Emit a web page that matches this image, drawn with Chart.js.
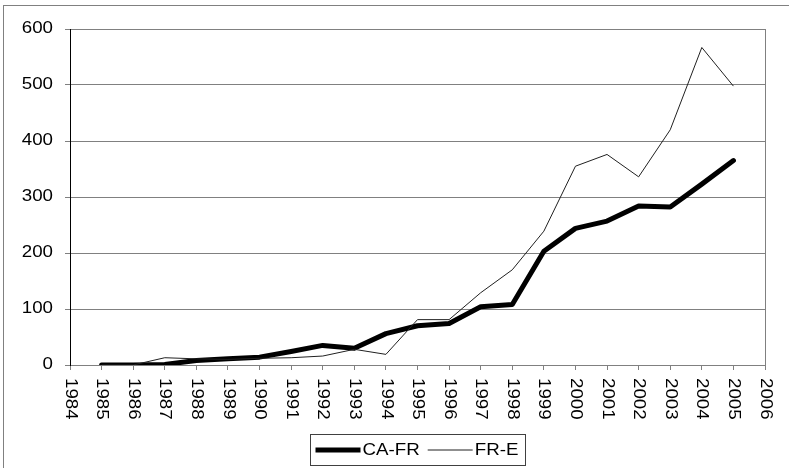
<!DOCTYPE html>
<html>
<head>
<meta charset="utf-8">
<script src="https://cdn.jsdelivr.net/npm/chart.js@4"></script>
<style>
  html, body { margin: 0; padding: 0; background: #fff; }
  #wrap { width: 789px; height: 468px; position: relative; }
</style>
</head>
<body>
<div id="wrap"><canvas id="chart" width="789" height="468"></canvas></div>
<script>
const years = [1985, 1986, 1987, 1988, 1989, 1990, 1991, 1992, 1993, 1994, 1995,
               1996, 1997, 1998, 1999, 2000, 2001, 2002, 2003, 2004, 2005]
const caFr = [0, 0, 1, 8, 11, 14, 24, 35, 30, 56, 70, 74, 104, 108, 203, 244, 257, 284, 282, 323, 365]
const frE = [0, 0, 13, 11, 10, 12, 13, 16, 28, 19, 81, 81, 129, 170, 239, 355, 376, 336, 420, 567, 498]
const seriesNames = ["CA-FR", "FR-E"]
const xMin = 1984, xMax = 2006
const yMax = 600, yStep = 100

const FONT = "'Liberation Sans', Arial, sans-serif"
const STRETCH = 1.17   // the original text is a bit wider than Arial

const toPoints = (vals) => vals.map((v, i) => ({ x: years[i], y: v }))

const wideText = (ctx, text, x, y, rot) => {
    ctx.save()
    ctx.translate(x, y)
    if (rot) ctx.rotate(rot)
    ctx.scale(STRETCH, 1)
    ctx.fillText(text, 0, 0)
    ctx.restore()
}

// frame, right edge of plot, tick labels, boxed legend
const decor = {
    id: 'decor',
    beforeDraw(chart) {
        const ctx = chart.ctx
        ctx.save()
        ctx.strokeStyle = '#808080'
        ctx.lineWidth = 1
        ctx.strokeRect(3.5, 5.5, 800, 480)
        ctx.restore()
    },
    afterDraw(chart) {
        const ctx = chart.ctx
        const area = chart.chartArea
        const xs = chart.scales.x
        const ys = chart.scales.y

        ctx.save()
        ctx.strokeStyle = '#808080'
        ctx.lineWidth = 1
        ctx.beginPath()
        ctx.moveTo(Math.round(area.right) + 0.5, area.top)
        ctx.lineTo(Math.round(area.right) + 0.5, area.bottom)
        ctx.stroke()

        ctx.fillStyle = '#000'
        ctx.font = '16px ' + FONT

        // y labels
        ctx.textAlign = 'right'
        ctx.textBaseline = 'middle'
        ys.ticks.forEach(t => {
            wideText(ctx, String(t.value), area.left - 17, ys.getPixelForValue(t.value))
        })

        // x labels, reading downwards
        ctx.textAlign = 'left'
        xs.ticks.forEach(t => {
            wideText(ctx, String(t.value), xs.getPixelForValue(t.value), area.bottom + 13, Math.PI / 2)
        })

        // legend
        const ds = chart.data.datasets
        const sample = 45
        const widths = ds.map(d => ctx.measureText(d.label).width * STRETCH)
        let total = 0
        widths.forEach((w, i) => { total += sample + 2 + w + (i < ds.length - 1 ? 8 : 0) })
        const boxW = Math.round(total + 12)
        const cx = (area.left + area.right) / 2
        const bx = Math.round(cx - boxW / 2) + 0.5
        const by = 434.5, bh = 31
        ctx.strokeStyle = '#404040'
        ctx.lineWidth = 1
        ctx.strokeRect(bx, by, boxW, bh)
        let x = bx + 5
        const ly = by + bh / 2
        ds.forEach((d, i) => {
            ctx.strokeStyle = d.borderColor
            ctx.lineWidth = d.borderWidth
            ctx.lineCap = 'butt'
            ctx.beginPath()
            ctx.moveTo(x, ly)
            ctx.lineTo(x + sample, ly)
            ctx.stroke()
            x += sample + 2
            ctx.fillStyle = '#000'
            ctx.textAlign = 'left'
            ctx.textBaseline = 'middle'
            wideText(ctx, d.label, x, ly + 1)
            x += widths[i] + 8
        })
        ctx.restore()
    }
}

const config = {
    type: 'line',
    data: {
        datasets: [
            {
                label: seriesNames[0],
                data: toPoints(caFr),
                borderColor: '#000',
                borderWidth: 5,
                borderJoinStyle: 'round',
                borderCapStyle: 'round',
                pointRadius: 0,
                tension: 0,
                fill: false,
                order: 1
            },
            {
                label: seriesNames[1],
                data: toPoints(frE),
                borderColor: '#202020',
                borderWidth: 1,
                pointRadius: 0,
                tension: 0,
                fill: false,
                order: 0
            }
        ]
    },
    options: {
        responsive: false,
        animation: false,
        devicePixelRatio: 1,
        layout: { padding: { left: 0, top: 29, right: 24, bottom: 0 } },
        plugins: {
            legend: { display: false },
            tooltip: { enabled: false }
        },
        scales: {
            x: {
                type: 'linear',
                min: xMin,
                max: xMax,
                afterFit: (s) => { s.height = 103 },
                ticks: {
                    stepSize: 1,
                    autoSkip: false,
                    maxRotation: 0,
                    color: 'rgba(0,0,0,0)',
                    font: { size: 16, family: FONT }
                },
                grid: {
                    drawOnChartArea: false,
                    drawTicks: true,
                    tickLength: 5,
                    color: '#808080'
                },
                border: { color: '#808080', width: 1 }
            },
            y: {
                min: 0,
                max: yMax,
                afterFit: (s) => { s.width = 70 },
                ticks: {
                    stepSize: yStep,
                    color: 'rgba(0,0,0,0)',
                    padding: 12,
                    font: { size: 16, family: FONT }
                },
                grid: {
                    color: '#808080',
                    tickLength: 5,
                    drawTicks: true
                },
                border: { color: '#000', width: 1 }
            }
        }
    },
    plugins: [decor]
}

const myChart = new Chart(document.getElementById('chart'), config)
</script>
</body>
</html>
